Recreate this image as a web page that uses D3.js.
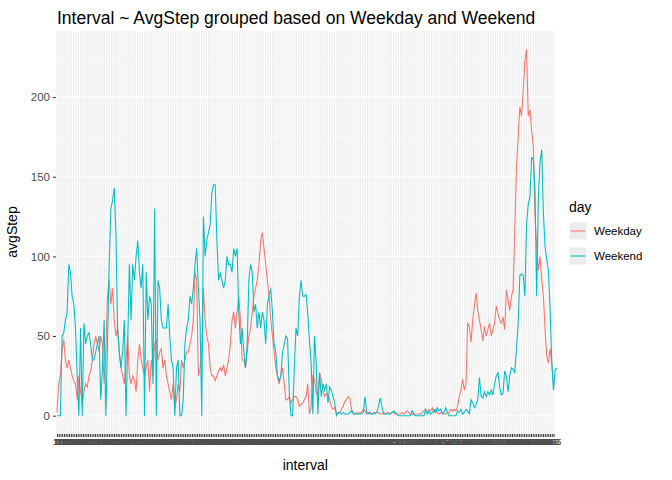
<!DOCTYPE html>
<html><head><meta charset="utf-8">
<script src="https://cdn.jsdelivr.net/npm/d3@7"></script>
<style>body{margin:0;background:#fff}text{font-family:"Liberation Sans",Arial,sans-serif}</style>
</head><body><svg id="c" width="672" height="480"></svg>
<script>
const seriesNames = ["Weekday","Weekend"];
const weekdayA = [2,20,25,40,48,35,30,35,30,25,22,20,10,25,15,8,15,20,18,25,28,35,45,50,45,40,50,45,20,40,75,85,70,80,60,50,55,40,30,25,20,35,50,25,20,25,22,15,35,45,35,30,25,30,35,15,35,25,45,48,35,40,42,30,35,25,20,15,10,20,5,10,20,15,35,30,35,40,40,45,50,60,90,85,25,30,40,80,60,50,45,30,25,25,22,25,28,30,28,32,25,30,35,45,60,65,55,65,75,60,35,35,30,40,50,55,65,75,80,85,95,110,115,105,95,85,75,60,50,40,30,25,20,25,30,20,10,10,12,8,10,12,12,10];
const weekdayB = [6,7,8,10,12,20,1,6,25,23,15,12,27,23,16,12,14,13,10,6,4,5,2,1,2,4,6,9,10,12,11,4,2,1,2,1,2,2,4,3,1,2,2,1,2,2,2,2,1,1,2,1,2,2,1,2,2,1,1,1,1,2,1,2,3,2,1,1,1,1,1,1,1,2,3,4,2,4,3,5,2,4,2,1,2,2,1,1,2,2,4,3,4,3,6,12,16,23,16,20,58,56,46,60,69,77,66,60,54,47,56,50,54,58,50,54,58,69,64,60,58,62,54,79,73,66,75,79,117,155,175,194,188,204,223,230,188,192,179,169,125,106,91,100,86,75,54,37,33,42,33,20];
const weekendA = [0,0,0,50,52,60,65,95,90,75,70,55,25,0,55,0,58,45,50,52,45,35,35,40,45,50,10,30,60,0,45,95,130,135,143,115,55,40,30,40,60,0,45,95,60,95,85,100,110,90,80,95,0,90,60,75,70,20,130,0,85,80,60,55,55,55,70,50,35,30,0,30,35,0,0,10,45,55,60,75,70,80,95,105,80,60,0,125,100,110,115,120,140,145,145,110,85,90,85,80,85,100,95,95,90,105,100,105,65,45,55,40,30,45,85,95,90,65,70,55,65,55,65,60,45,70,75,80,65,45,40,25,22,25,40,45,50,48,15,0,0,30,55,50,75,85];
const weekendB = [75,75,76,64,47,33,1,50,33,1,27,12,20,16,20,8,18,16,12,8,0,2,2,1,2,1,1,1,2,3,1,1,1,1,1,1,2,12,2,1,2,1,1,1,2,6,11,6,1,1,1,1,1,2,3,2,1,0,0,0,0,0,0,0,0,3,1,0,0,0,0,0,0,4,1,3,1,2,4,2,5,3,4,1,2,5,2,0,0,0,0,0,3,2,4,1,2,4,3,1,10,8,5,7,10,24,12,11,15,12,15,13,16,13,20,25,27,18,13,14,28,25,15,25,30,29,27,42,58,88,89,88,75,120,133,137,162,161,142,75,137,159,167,127,106,98,91,66,33,16,29,30];
const weekday = weekdayA.concat(weekdayB);
const weekend = weekendA.concat(weekendB);
const intervals = d3.range(288).map(i=>String(Math.floor(i/12)*100+(i%12)*5)).sort();
const yTicks = [0,50,100,150,200];
const colors = ["#F8766D","#00BFC4"];

const svg = d3.select("#c");
const L=56, R=554.5, T=31, B=434;
const x = d3.scalePoint().domain(intervals).range([57,553.5]);
const xi = d3.scaleLinear().domain([0,weekday.length-1]).range([57,553.5]);
const y = d3.scaleLinear().domain([-11.5,241.5]).range([B,T]);
svg.append("rect").attr("x",L).attr("y",T).attr("width",R-L).attr("height",B-T).attr("fill","#EBEBEB");
const g = svg.append("g");
d3.range(25,226,50).forEach(v=>g.append("line").attr("x1",L).attr("x2",R).attr("y1",y(v)).attr("y2",y(v)).attr("stroke","#fff").attr("stroke-width",0.55));
yTicks.forEach(v=>g.append("line").attr("x1",L).attr("x2",R).attr("y1",y(v)).attr("y2",y(v)).attr("stroke","#fff").attr("stroke-width",1.07));
intervals.forEach(c=>g.append("line").attr("x1",x(c)).attr("x2",x(c)).attr("y1",T).attr("y2",B).attr("stroke","#fff").attr("stroke-width",0.9));
const line = d3.line().x((d,i)=>xi(i)).y(d=>y(d));
[weekday,weekend].forEach((s,k)=>svg.append("path").attr("d",line(s)).attr("fill","none").attr("stroke",colors[k]).attr("stroke-width",1.07));
// axes
const ya = svg.append("g").attr("transform",`translate(${L},0)`).call(d3.axisLeft(y).tickValues(yTicks).tickSize(3).tickPadding(3));
ya.select(".domain").remove();
ya.selectAll("line").attr("stroke","#333");
ya.selectAll("text").attr("fill","#4D4D4D").style("font-size","11.5px");
const xa = svg.append("g").attr("transform",`translate(0,${B})`).call(d3.axisBottom(x).tickSize(3).tickPadding(2));
xa.select(".domain").remove();
xa.selectAll("line").attr("stroke","#333");
xa.selectAll("text").attr("fill","#4D4D4D").style("font-size","9px");
svg.append("text").attr("x",(L+R)/2).attr("y",470).attr("text-anchor","middle").style("font-size","14px").text("interval");
svg.append("text").attr("transform","translate(17,232) rotate(-90)").attr("text-anchor","middle").style("font-size","14px").text("avgStep");
svg.append("text").attr("x",57).attr("y",24).style("font-size","17.5px").text("Interval ~ AvgStep grouped based on Weekday and Weekend");
// legend
svg.append("text").attr("x",569).attr("y",212).style("font-size","14px").text("day");
seriesNames.forEach((n,k)=>{
  const yy=222+k*25;
  svg.append("rect").attr("x",569).attr("y",yy).attr("width",18).attr("height",18).attr("fill","#EBEBEB").attr("stroke","#fff");
  svg.append("line").attr("x1",571).attr("x2",585).attr("y1",yy+9).attr("y2",yy+9).attr("stroke",colors[k]).attr("stroke-width",1.07);
  svg.append("text").attr("x",594).attr("y",yy+13).style("font-size","11.5px").text(n);
});
</script></body></html>
